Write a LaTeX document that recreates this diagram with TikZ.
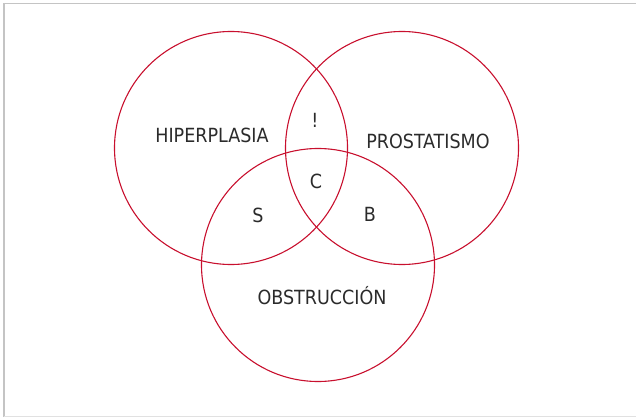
\documentclass[tikz,border=0pt]{standalone}
\usepackage{fontspec}
\newfontfamily\labelfont{DejaVu Sans Condensed}
\definecolor{vennred}{HTML}{C8102E}
\definecolor{frame}{HTML}{C4C4C4}
\definecolor{ink}{HTML}{2B2B2B}
\begin{document}
\begin{tikzpicture}[x=1pt,y=-1pt,
  venn/.style={draw=vennred,line width=1.1pt},
  lbl/.style={text=ink,font=\labelfont\fontsize{19.5}{22}\selectfont,inner sep=0pt}]
\useasboundingbox (0,0) rectangle (636,417);
% frame
\draw[frame,line width=1.3pt] (4,417) -- (4,3.5) -- (636,3.5);
\draw[frame!50,line width=1pt] (4,416) -- (636,416);
% circles
\draw[venn] (231,148) circle (116.5);
\draw[venn] (402,148) circle (116.5);
\draw[venn] (318,265) circle (116.5);
% labels
\node[lbl] (hip) at (212,135) {HIPERPLASIA};
\node[lbl] (pro) at (428,141) {PROSTATISMO};
\node[lbl] (obs) at (322,296) {OBSTRUCCIÓN};
\node[lbl] (ex) at (315,120) {!};
\node[lbl] (c) at (316,181) {C};
\node[lbl] (s) at (258,215) {S};
\node[lbl] (b) at (370,214) {B};
\end{tikzpicture}
\end{document}
